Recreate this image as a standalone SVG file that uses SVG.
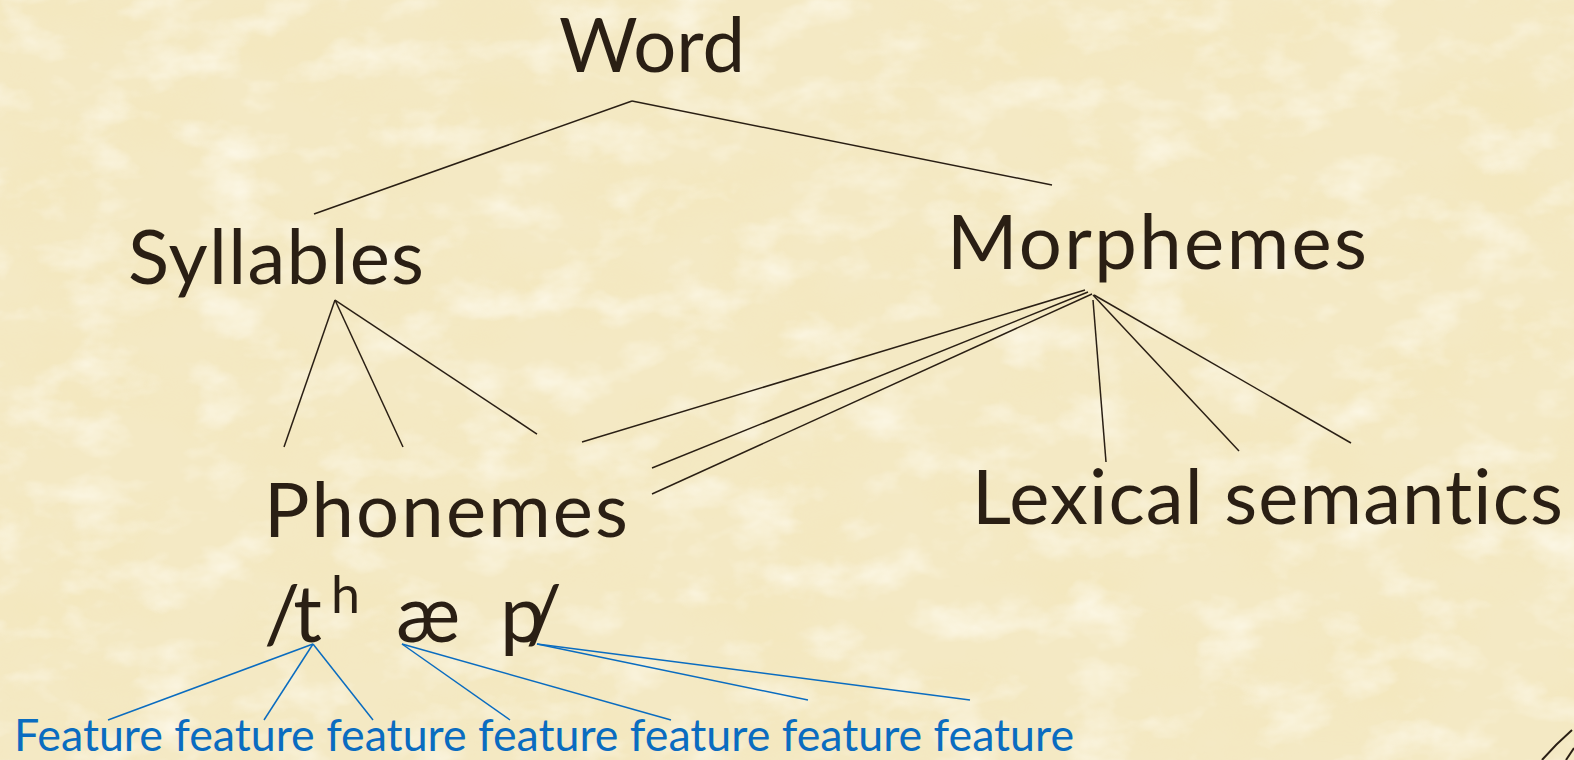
<svg xmlns="http://www.w3.org/2000/svg" width="1574" height="760" viewBox="0 0 1574 760">
<defs>
<filter id="paper" x="0" y="0" width="1574" height="760" filterUnits="userSpaceOnUse">
<feTurbulence type="fractalNoise" baseFrequency="0.007 0.012" numOctaves="4" seed="7" result="n"/>
<feColorMatrix in="n" type="matrix" values="0 0 0 0 0.90  0 0 0 0 0.80  0 0 0 0 0.50  1.5 0 0 0 -0.60" result="dark"/>
<feTurbulence type="fractalNoise" baseFrequency="0.015 0.025" numOctaves="4" seed="19" result="n2"/>
<feColorMatrix in="n2" type="matrix" values="0 0 0 0 1  0 0 0 0 0.98  0 0 0 0 0.90  0 1.6 0 0 -0.78" result="light"/>
<feMerge><feMergeNode in="dark"/><feMergeNode in="light"/></feMerge>
</filter>
<style>
text{font-variant-ligatures:none}
.big{font-family:Lato,"Liberation Sans",sans-serif;font-size:76px;fill:#2a1f14}
.ph{font-family:Lato,"Liberation Sans",sans-serif;font-size:80px;fill:#2a1f14}
.feat{font-family:Lato,"Liberation Sans",sans-serif;font-size:44px;fill:#0a6cc0}
.k line{stroke:#2a1f14;stroke-width:1.5}
.b line{stroke:#0a6cc0;stroke-width:1.5}
</style>
</defs>
<rect width="1574" height="760" fill="#f4e9c4"/>
<rect width="1574" height="760" filter="url(#paper)"/>

<g id="connectors">
<g class="k">
<line x1="632" y1="101" x2="314" y2="214"/>
<line x1="632" y1="101" x2="1052" y2="185"/>
<line x1="335" y1="300" x2="284" y2="447"/>
<line x1="335" y1="300" x2="403" y2="447"/>
<line x1="335" y1="300" x2="537" y2="434"/>
<line x1="1085" y1="290" x2="582" y2="442"/>
<line x1="1088" y1="292" x2="652" y2="468"/>
<line x1="1092" y1="294" x2="652" y2="494"/>
<line x1="1093" y1="300" x2="1106" y2="462"/>
<line x1="1093" y1="295" x2="1239" y2="451"/>
<line x1="1094" y1="295" x2="1351" y2="443"/>
</g>
<g class="b">
<line x1="313" y1="644" x2="108" y2="720"/>
<line x1="313" y1="644" x2="264" y2="720"/>
<line x1="313" y1="644" x2="373" y2="720"/>
<line x1="402" y1="644" x2="510" y2="720"/>
<line x1="402" y1="644" x2="671" y2="720"/>
<line x1="537" y1="644" x2="808" y2="700"/>
<line x1="537" y1="644" x2="970" y2="700"/>
</g>
</g>

<g id="word"><text class="big" x="559" y="72" textLength="186">Word</text></g>
<g id="syllables"><text class="big" x="128" y="284" textLength="296">Syllables</text></g>
<g id="morphemes"><text class="big" x="947" y="269" textLength="420">Morphemes</text></g>
<g id="phonemes"><text class="big" x="264" y="537" textLength="364">Phonemes</text></g>
<g id="lexical-semantics"><text class="big" x="972" y="524" textLength="591">Lexical semantics</text></g>
<g id="transcription">
<text class="ph" x="264" y="642" textLength="58">/t</text>
<text class="ph" x="331" y="613" style="font-size:52px" textLength="22">h</text>
<text class="ph" x="396" y="642" textLength="57">æ</text>
<text class="ph" x="500" y="642" textLength="62">p/</text>
</g>
<g id="features"><text class="feat" x="14" y="751" textLength="1060" lengthAdjust="spacingAndGlyphs">Feature feature feature feature feature feature feature</text></g>
<g id="corner">
<path d="M1572,730 Q1556,744 1542,760" fill="none" stroke="#2a1f14" stroke-width="2"/>
<path d="M1574,748 L1566,760" fill="none" stroke="#2a1f14" stroke-width="2"/>
</g>
</svg>
